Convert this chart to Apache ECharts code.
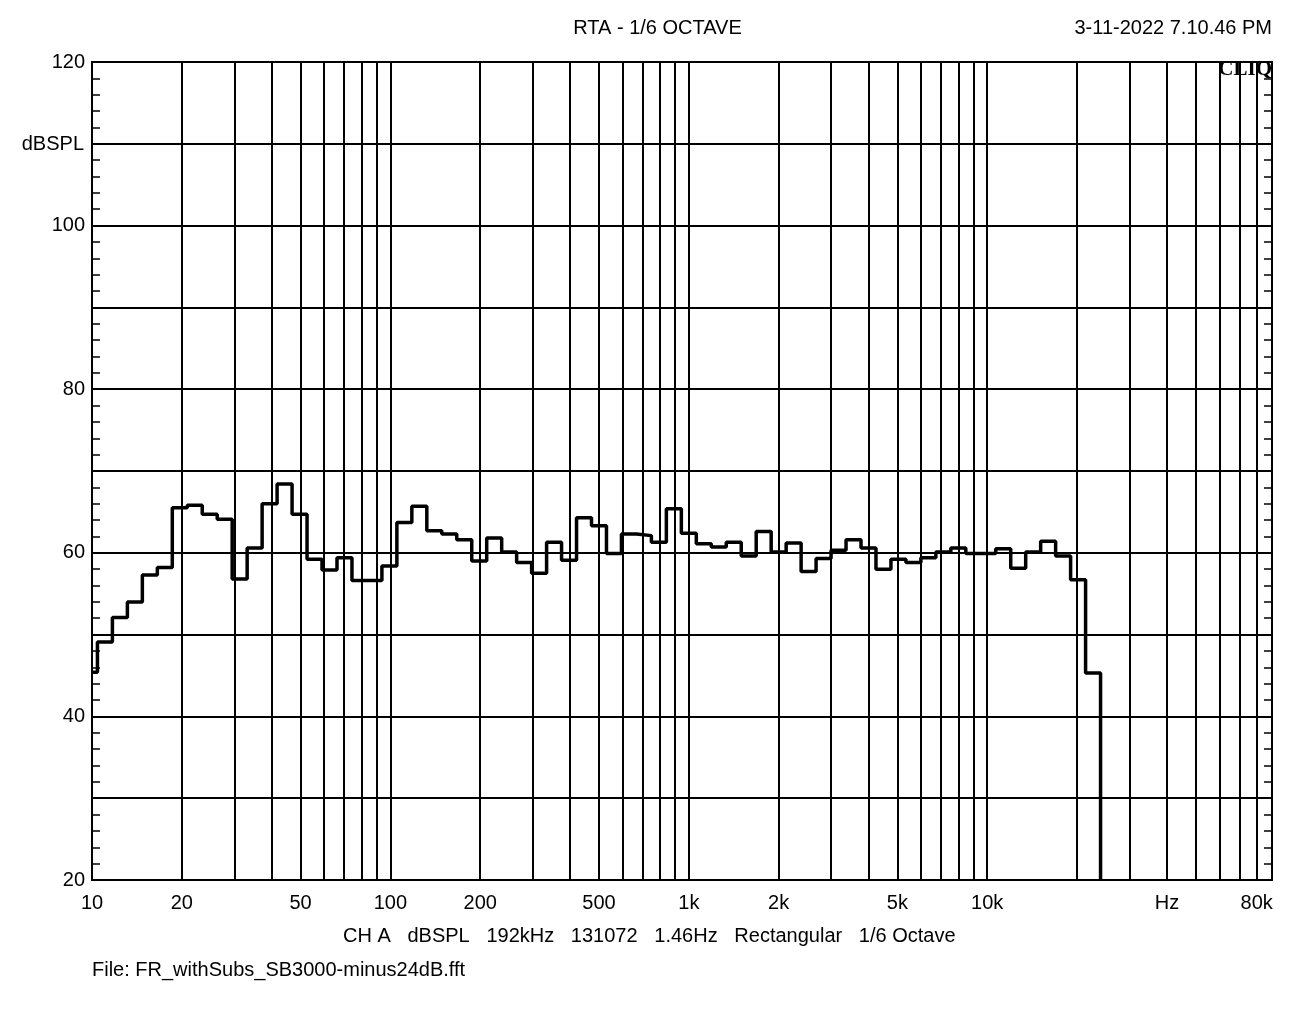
<!DOCTYPE html>
<html><head><meta charset="utf-8">
<script src="https://cdn.jsdelivr.net/npm/echarts@6/dist/echarts.min.js"></script>
<style>html,body{margin:0;padding:0;background:#fff}#c{width:1315px;height:1011px}</style>
</head><body><div id="c"></div>
<script>
// 1/6-octave band levels (dBSPL), bands k = -40 .. 27 relative to 1 kHz
const firstBand = -40;
const levels = [45.4,49.1,52.1,54.0,57.3,58.2,65.5,65.8,64.7,64.1,56.8,60.6,66.0,68.4,64.7,59.2,57.9,59.4,56.6,56.6,58.4,63.7,65.7,62.7,62.3,61.6,59.0,61.8,
  60.1,58.8,57.5,61.3,59.1,64.3,63.3,59.9,62.3,62.1,61.3,65.4,62.4,61.1,60.7,61.3,59.6,62.6,60.1,61.2,57.7,59.3,60.3,61.6,60.6,58.0,
  59.2,58.8,59.4,60.1,60.6,59.9,59.9,60.5,58.1,60.1,61.4,59.6,56.7,45.3];
const xTickLabels = [10,20,50,100,200,500,1000,2000,5000,10000,40000,80000];
const xLabelText = {10:'10',20:'20',50:'50',100:'100',200:'200',500:'500',1000:'1k',2000:'2k',5000:'5k',10000:'10k',40000:'Hz',80000:'80k'};
const yTickLabels = [20,40,60,80,100,120];
const xMin = 10, xMax = 90000, yMin = 20, yMax = 120;

const pts = [];
levels.forEach((v,i)=>{
  const k = firstBand + i;
  let lo = 1000*Math.pow(2,(k-0.5)/6);
  if (i===0) lo = xMin;
  pts.push([lo, v]);
});
const lastHi = 1000*Math.pow(2,(firstBand+levels.length-1+0.5)/6);
pts.push([lastHi, levels[levels.length-1]]);
pts.push([lastHi, yMin]);

const vlines = [];
for (let d=10; d<=10000; d*=10) for (let m=1; m<=9; m++){ const f=d*m; if(f>xMin && f<xMax) vlines.push({xAxis:f}); }
const hlines = []; for (let y=yMin+10; y<yMax; y+=10) hlines.push({yAxis:y});
const minorY = []; for (let y=yMin+2; y<yMax; y+=2) minorY.push(y);
const font = '"Liberation Sans", Arial, sans-serif';
const tickAxis = pos => ({type:'value',min:yMin,max:yMax,position:pos,
    axisLine:{show:false},
    axisTick:{show:true,inside:true,length:8,customValues:minorY,lineStyle:{color:'#000',width:1.5}},
    splitLine:{show:false},axisLabel:{show:false}});

const chart = echarts.init(document.getElementById('c'), null, {renderer:'canvas'});
chart.setOption({
  animation:false,
  backgroundColor:'#fff',
  grid:{left:92,right:43,top:62,bottom:131,show:true,borderColor:'#000',borderWidth:2},
  xAxis:{type:'log',logBase:10,min:xMin,max:xMax,
    axisLine:{show:false},axisTick:{show:false},splitLine:{show:false},minorTick:{show:false},
    axisLabel:{customValues:xTickLabels,formatter:v=>xLabelText[Math.round(v)]||'',color:'#000',fontFamily:font,fontSize:20,margin:13}},
  yAxis:[{type:'value',min:yMin,max:yMax,
    axisLine:{show:false},axisTick:{show:false},splitLine:{show:false},
    axisLabel:{customValues:yTickLabels,color:'#000',fontFamily:font,fontSize:20,margin:7}},
   tickAxis('right'), tickAxis('left')],
  series:[{type:'line',data:pts,step:'end',symbol:'none',
    lineStyle:{color:'#000',width:3.5},z:5,
    markLine:{silent:true,symbol:'none',label:{show:false},animation:false,
      lineStyle:{color:'#000',width:2,type:'solid'},data:vlines.concat(hlines)}}],
  graphic:[
    {type:'text',left:'center',top:18,style:{text:'RTA - 1/6 OCTAVE',font:'20px '+font,fill:'#000'}},
    {type:'text',right:43,top:18,style:{text:'3-11-2022 7.10.46 PM',font:'20px '+font,fill:'#000'}},
    {type:'text',right:43,top:59,style:{text:'CLIQ',font:'bold 21px "Liberation Serif", serif',fill:'#000'}},
    {type:'text',right:1231,top:134,style:{text:'dBSPL',font:'20px '+font,fill:'#000'}},
    {type:'text',left:343,top:926,style:{text:'CH A   dBSPL   192kHz   131072   1.46Hz   Rectangular   1/6 Octave',font:'20px '+font,fill:'#000'}},
    {type:'text',left:92,top:960,style:{text:'File: FR_withSubs_SB3000-minus24dB.fft',font:'20px '+font,fill:'#000'}}
  ]
});
</script></body></html>
